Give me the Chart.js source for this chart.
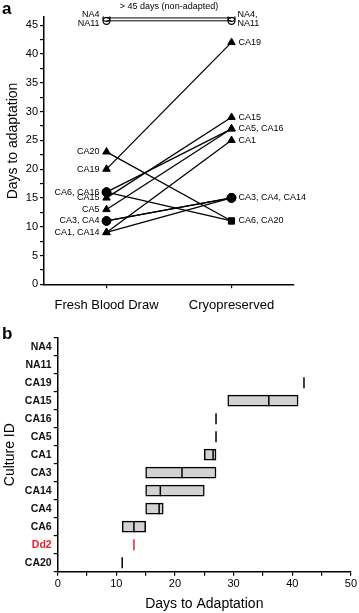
<!DOCTYPE html>
<html><head><meta charset="utf-8">
<script src="https://cdn.jsdelivr.net/npm/chart.js@4/dist/chart.umd.min.js"></script>
<style>
html,body{margin:0;padding:0;background:#fff;}
body{width:359px;height:613px;position:relative;overflow:hidden;font-family:"Liberation Sans",Arial,sans-serif;}
#ca{position:absolute;left:0;top:0;}
#cb{position:absolute;left:0;top:315px;}
.lt{position:absolute;font-weight:bold;font-size:17px;color:#000;line-height:17px;}
</style></head><body>
<canvas id="ca" width="359" height="315" style="width:359px;height:315px"></canvas>
<canvas id="cb" width="359" height="298" style="width:359px;height:298px"></canvas>
<div class="lt" style="left:2px;top:0px">a</div>
<div class="lt" style="left:2px;top:325px">b</div>
<script>
// ---------- Panel a data ----------
const cultures = ['CA20','CA19','CA6','CA16','CA15','CA5','CA3','CA4','CA1','CA14'];
const freshDays = [23,20,16,16,15,13,11,11,9,9];
const cryoDays  = [11,42,11,27,29,27,15,15,25,15];
const nonAdapted = ['NA4','NA11'];
const nonAdaptedDays = [46.25,45.75];
const periodLabels = ['Fresh Blood Draw','Cryopreserved'];
const freshGroupText = ['CA20','CA19','CA6, CA16','CA15','CA5','CA3, CA4','CA1, CA14'];
const freshGroupDays = [23,20,16,15,13,11,9];
const cryoGroupText = ['CA19','CA15','CA5, CA16','CA1','CA3, CA4, CA14','CA6, CA20'];
const cryoGroupDays = [42,29,27,25,15,11];
const nonAdaptedNote = '> 45 days (non-adapted)';
const yTitleA = 'Days to adaptation';

// ---------- Panel b data ----------
const cultureIds = ['NA4','NA11','CA19','CA15','CA16','CA5','CA1','CA3','CA14','CA4','CA6','Dd2','CA20'];
const boxLow  = [null,null,null,29,null,null,25,15,15,15,11,null,null];
const boxHigh = [null,null,null,41,null,null,27,27,25,18,15,null,null];
const medianDays = [null,null,null,36,null,null,26.5,21.2,17.5,17.3,13,null,null];
const singleDays = [null,null,42,null,27,27,null,null,null,null,null,13,11];
const highlightId = 'Dd2';

const FONT = '"Liberation Sans", Arial, sans-serif';
Chart.defaults.font.family = FONT;
Chart.defaults.color = '#000';
Chart.defaults.animation = false;

function freshStyle(v){ return (v===16||v===11) ? 'circle' : 'triangle'; }
function cryoStyle(v){ return v===15 ? 'circle' : (v===11 ? 'rect' : 'triangle'); }

const dsA = cultures.map((c,i)=>({
  label:c,
  data:[{x:0,y:freshDays[i]},{x:1,y:cryoDays[i]}],
  borderColor:'#000', borderWidth:1.3, backgroundColor:'#000',
  pointStyle:[freshStyle(freshDays[i]), cryoStyle(cryoDays[i])],
  pointRadius:4.3, pointBorderWidth:1, pointBackgroundColor:'#000', pointBorderColor:'#000'
}));
nonAdapted.forEach((n,i)=>dsA.push({
  label:n,
  data:[{x:0,y:nonAdaptedDays[i]},{x:1,y:nonAdaptedDays[i]}],
  borderColor:'#000', borderWidth:1,
  pointStyle:'circle', pointRadius:3.5,
  pointBackgroundColor:'rgba(0,0,0,0)', pointBorderColor:'#000', pointBorderWidth:1.3
}));

const labelsA = {
  id:'labelsA',
  afterDatasetsDraw(chart){
    const ctx = chart.ctx, xs = chart.scales.x, ys = chart.scales.y;
    const xf = xs.getPixelForValue(0), xc = xs.getPixelForValue(1);
    ctx.save();
    ctx.fillStyle = '#000';
    ctx.font = '9px ' + FONT;
    ctx.textBaseline = 'middle';
    ctx.textAlign = 'right';
    freshGroupText.forEach((t,i)=>ctx.fillText(t, xf-7, ys.getPixelForValue(freshGroupDays[i])));
    const yna = ys.getPixelForValue(46);
    ctx.fillText(nonAdapted[0], xf-7, yna-4.5);
    ctx.fillText(nonAdapted[1], xf-7, yna+4);
    ctx.textAlign = 'left';
    cryoGroupText.forEach((t,i)=>ctx.fillText(t, xc+7, ys.getPixelForValue(cryoGroupDays[i])));
    ctx.fillText(nonAdapted[0]+',', xc+6, yna-4.5);
    ctx.fillText(nonAdapted[1], xc+6, yna+4);
    ctx.textAlign = 'center';
    ctx.fillText(nonAdaptedNote, (xf+xc)/2, 7);
    // y axis title
    ctx.font = '14px ' + FONT;
    ctx.translate(13, 141);
    ctx.rotate(-Math.PI/2);
    ctx.fillText(yTitleA, 0, 0);
    ctx.restore();
  }
};

new Chart(document.getElementById('ca'), {
  type:'line',
  data:{datasets:dsA},
  options:{
    responsive:false, animation:false,
    layout:{padding:{top:16.5,right:65,bottom:0,left:0}},
    plugins:{legend:{display:false},tooltip:{enabled:false}},
    elements:{line:{tension:0}},
    scales:{
      x:{type:'linear',min:-0.5,max:1.5,
        afterBuildTicks:s=>{s.ticks=[{value:0},{value:1}];},
        afterFit:s=>{s.height=30.7;},
        ticks:{callback:v=>periodLabels[v],font:{size:13},color:'#000',maxRotation:0,autoSkip:false,padding:9},
        grid:{drawOnChartArea:false,drawTicks:true,tickLength:4,color:'#000',lineWidth:1.2},
        border:{display:true,color:'#000',width:1.5}
      },
      y:{type:'linear',min:0,max:46.5,
        afterBuildTicks:s=>{const t=[];for(let v=0;v<=45;v+=2.5)t.push({value:v});s.ticks=t;},
        afterFit:s=>{s.width=44;},
        ticks:{callback:v=>(v%5===0?String(v):''),font:{size:11},color:'#000',padding:2,autoSkip:false},
        grid:{drawOnChartArea:false,drawTicks:true,tickLength:4,color:'#000',lineWidth:1.2},
        border:{display:true,color:'#000',width:1.5}
      }
    }
  },
  plugins:[labelsA]
});

// ---------- Panel b ----------
const boxData = cultureIds.map((c,i)=> boxLow[i]==null ? null : [boxLow[i], boxHigh[i]]);
const medPts = [], singlePts = [], singleColors = [];
cultureIds.forEach((c,i)=>{
  if(medianDays[i]!=null) medPts.push({x:medianDays[i], y:c});
  if(singleDays[i]!=null){ singlePts.push({x:singleDays[i], y:c}); singleColors.push(c===highlightId ? '#e8202a' : '#000'); }
});

new Chart(document.getElementById('cb'), {
  type:'bar',
  data:{
    labels:cultureIds,
    datasets:[
      {type:'bar', indexAxis:'y', data:boxData, backgroundColor:'#d2d2d2', borderColor:'#000',
       borderWidth:1.5, borderSkipped:false, barThickness:11, order:2},
      {type:'line', showLine:false, data:medPts, pointStyle:'line', rotation:90, pointRadius:5.5,
       pointBorderColor:'#000', pointBorderWidth:1.5, order:1},
      {type:'line', showLine:false, data:singlePts, pointStyle:'line', rotation:90, pointRadius:5.5,
       pointBorderColor:singleColors, pointBorderWidth:1.5, order:1}
    ]
  },
  options:{
    responsive:false, animation:false, indexAxis:'y',
    layout:{padding:{top:22.7,right:7.3,bottom:0,left:0}},
    plugins:{legend:{display:false},tooltip:{enabled:false}},
    scales:{
      x:{type:'linear',min:0,max:50,
        afterBuildTicks:s=>{const t=[];for(let v=0;v<=50;v+=5)t.push({value:v});s.ticks=t;},
        afterFit:s=>{s.height=41.3;},
        ticks:{callback:v=>(v%10===0?String(v):''),font:{size:11},color:'#000',maxRotation:0,autoSkip:false,padding:2},
        grid:{drawOnChartArea:false,drawTicks:true,tickLength:4,color:'#000',lineWidth:1.2},
        border:{display:true,color:'#000',width:1.5},
        title:{display:true,text:'Days to Adaptation',font:{size:14},color:'#000',padding:{top:4,bottom:0}}
      },
      y:{type:'category',offset:true,
        afterFit:s=>{s.width=57.7;},
        ticks:{font:{size:10.5,weight:'bold'},color:c=>(c.tick&&c.tick.label===highlightId?'#e8202a':'#111'),padding:2,autoSkip:false},
        grid:{drawOnChartArea:false,drawTicks:true,tickLength:4,color:'#000',lineWidth:1.2},
        border:{display:true,color:'#000',width:1.5},
        title:{display:true,text:'Culture ID',font:{size:14},color:'#000',padding:{top:2,bottom:0}}
      }
    }
  }
});
</script>
</body></html>
